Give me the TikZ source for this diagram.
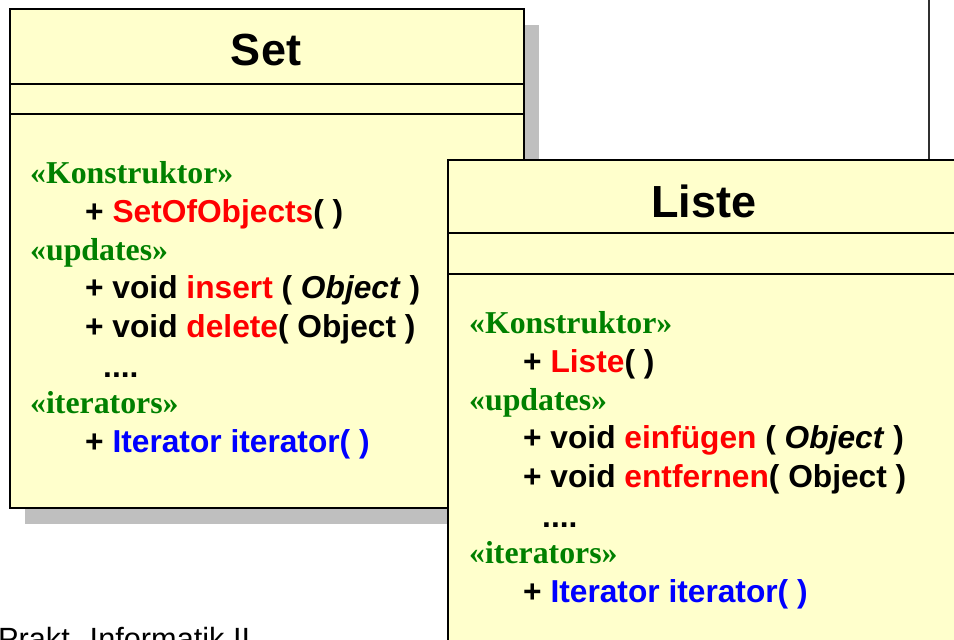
\documentclass[tikz,border=0pt]{standalone}
\usepackage{fontspec}
\setmainfont{Liberation Sans}
\newfontfamily\stereofont{Liberation Serif}
\usetikzlibrary{shadows}
\definecolor{classfill}{HTML}{FFFFCC}
\definecolor{shadowgray}{HTML}{BFBFBF}
\definecolor{stereogreen}{HTML}{008000}
\definecolor{opred}{HTML}{FF0000}
\definecolor{itblue}{HTML}{0000FF}
\definecolor{rulegray}{HTML}{303030}
\tikzset{
  classbox/.style={draw=black, line width=1.8pt, fill=classfill, inner sep=0pt, anchor=north west},
  boxshadow/.style={drop shadow={shadow xshift=15pt, shadow yshift=-16pt, fill=shadowgray, opacity=1}},
  divider/.style={draw=black, line width=1.8pt},
  titletext/.style={font=\fontsize{45}{54}\selectfont\bfseries, inner sep=0pt, anchor=base},
  stereo/.style={font=\stereofont\fontsize{31.8}{38}\selectfont\bfseries, text=stereogreen, inner sep=0pt, anchor=base west},
  member/.style={font=\fontsize{31.7}{38}\selectfont\bfseries, inner sep=0pt, anchor=base west},
}
\newcommand{\opname}[1]{\textcolor{opred}{#1}}
\newcommand{\itname}[1]{\textcolor{itblue}{#1}}
\begin{document}
\begin{tikzpicture}[x=1pt, y=-1pt]
  \useasboundingbox (0,0) rectangle (954,640);
  \clip (0,0) rectangle (954,640);

  % rule leading off the top edge
  \coordinate (vtop) at (929,0);

  % class Set
  \node[classbox, boxshadow, minimum width=514pt, minimum height=499pt] (setbox) at (9,8) {};
  \draw[divider] (setbox.west |- 0,84) -- (setbox.east |- 0,84);
  \draw[divider] (setbox.west |- 0,114) -- (setbox.east |- 0,114);
  \node[titletext] (settitle) at (266,65) {Set};
  \node[stereo] (setk) at (30,183) {«Konstruktor»};
  \node[member] (setc) at (85,222) {+ \opname{SetOfObjects}( )};
  \node[stereo] (setu) at (30,260) {«updates»};
  \node[member] (seti) at (85,298) {+ void \opname{insert} ( \textit{Object} )};
  \node[member] (setd) at (85,337) {+ void \opname{delete}( Object )};
  \node[member] (setdots) at (103,377) {....};
  \node[stereo] (setit) at (30,413) {«iterators»};
  \node[member] (setiter) at (85,452) {+ \itname{Iterator iterator( )}};

  % footer text
  \node[font=\fontsize{30.7}{36}\selectfont, inner sep=0pt, anchor=base west] (footer) at (-2,649) {Prakt. Informatik II};

  % class Liste
  \node[classbox, minimum width=514pt, minimum height=510pt] (listebox) at (447,159) {};
  \draw[divider] (listebox.west |- 0,233) -- (listebox.east |- 0,233);
  \draw[divider] (listebox.west |- 0,274) -- (listebox.east |- 0,274);
  \node[titletext] (listetitle) at (704,217) {Liste};
  \node[stereo] (listek) at (469,333) {«Konstruktor»};
  \node[member] (listec) at (523,372) {+ \opname{Liste}( )};
  \node[stereo] (listeu) at (469,410) {«updates»};
  \node[member] (listei) at (523,448) {+ void \opname{einfügen} ( \textit{Object} )};
  \node[member] (listed) at (523,487) {+ void \opname{entfernen}( Object )};
  \node[member] (listedots) at (542,527) {....};
  \node[stereo] (listeit) at (469,563) {«iterators»};
  \node[member] (listeiter) at (523,602) {+ \itname{Iterator iterator( )}};

  \draw[rulegray, line width=1.8pt] (vtop) -- (vtop |- listebox.north);
\end{tikzpicture}
\end{document}
